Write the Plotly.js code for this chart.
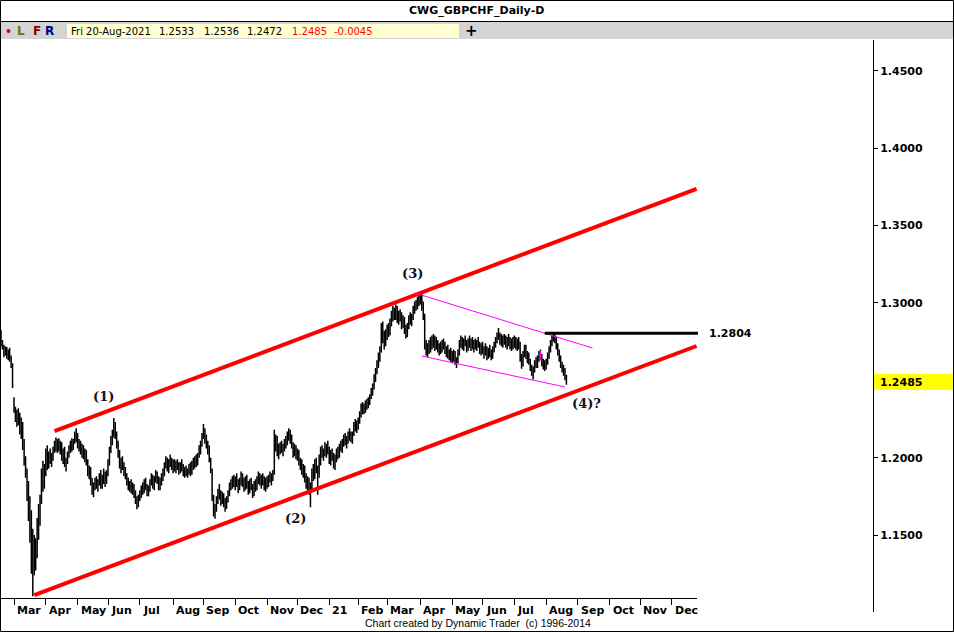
<!DOCTYPE html>
<html>
<head>
<meta charset="utf-8">
<script src="https://cdn.plot.ly/plotly-3.0.1.min.js"></script>
<style>
html,body{margin:0;padding:0;background:#fff;}
#chart{width:954px;height:632px;}
</style>
</head>
<body>
<div id="chart"></div>
<script>
// ---------------- DATA ----------------
const symbolTitle = 'CWG_GBPCHF_Daily-D';
const firstBarDate = '2020-02-18';
const holidays = ['2020-12-25', '2021-01-01'];

// Daily OHLC, Feb-18-2020 .. Aug-20-2021 (one line per month)
const openPx = [
1.2800,1.2740,1.2715,1.2680,1.2700,1.2660,1.2690,1.2640,1.2600,
1.2385,1.2320,1.2260,1.2290,1.2240,1.2170,1.2220,1.2080,1.1990,1.1920,1.1760,1.1620,1.1500,1.1300,1.1440,1.1300,1.1450,1.1570,1.1650,1.1720,1.1900,1.1820,
1.1920,1.2030,1.1960,1.2010,1.1990,1.2000,1.2050,1.2090,1.2070,1.2100,1.2060,1.2090,1.2010,1.2040,1.1960,1.1980,1.2020,1.2060,1.2100,1.2060,1.2110,1.2150,
1.2130,1.2080,1.2100,1.2040,1.2070,1.2010,1.2040,1.1970,1.1900,1.1930,1.1840,1.1790,1.1820,1.1850,1.1810,1.1840,1.1880,1.1820,1.1860,1.1900,1.1840,
1.1900,1.1970,1.2050,1.2120,1.2150,1.2200,1.2140,1.2080,1.2020,1.1960,1.1980,1.1940,1.1920,1.1880,1.1840,1.1810,1.1830,1.1790,1.1800,1.1760,1.1720,1.1690,
1.1740,1.1770,1.1800,1.1780,1.1840,1.1810,1.1770,1.1800,1.1840,1.1870,1.1820,1.1860,1.1890,1.1850,1.1810,1.1850,1.1880,1.1910,1.1950,1.1990,1.1930,1.1970,1.1960,
1.1940,1.1960,1.1930,1.1960,1.1940,1.1910,1.1950,1.1930,1.1900,1.1920,1.1890,1.1910,1.1940,1.1900,1.1960,1.1940,1.1990,1.1960,1.2010,1.2060,1.2090,
1.2140,1.2170,1.2110,1.2080,1.2050,1.1990,1.1920,1.1750,1.1660,1.1680,1.1720,1.1770,1.1750,1.1710,1.1760,1.1700,1.1690,1.1730,1.1770,1.1820,1.1810,1.1860,
1.1830,1.1850,1.1830,1.1800,1.1850,1.1880,1.1830,1.1810,1.1860,1.1820,1.1790,1.1840,1.1810,1.1770,1.1830,1.1800,1.1860,1.1890,1.1840,1.1870,1.1850,1.1810,
1.1840,1.1820,1.1870,1.1860,1.1880,1.1900,1.2080,1.2120,1.2040,1.2060,1.2080,1.2050,1.2070,1.2100,1.2120,1.2150,1.2160,1.2110,1.2080,1.2030,1.2070,
1.2010,1.2030,1.1970,1.1950,1.1910,1.1930,1.1860,1.1830,1.1850,1.1780,1.1800,1.1910,1.1880,1.1960,1.1930,1.1890,1.1990,1.2040,1.2020,1.2050,1.2030,1.2070,
1.2040,1.1990,1.2030,1.2000,1.1960,1.2000,1.2040,1.2020,1.2070,1.2060,1.2090,1.2120,1.2100,1.2120,1.2150,1.2130,1.2120,1.2150,1.2210,1.2190,
1.2220,1.2240,1.2280,1.2330,1.2300,1.2320,1.2350,1.2330,1.2370,1.2390,1.2430,1.2460,1.2520,1.2560,1.2610,1.2650,1.2700,1.2840,1.2780,1.2750,
1.2800,1.2830,1.2810,1.2880,1.2920,1.2950,1.2910,1.2960,1.2900,1.2930,1.2900,1.2860,1.2890,1.2830,1.2800,1.2850,1.2900,1.2880,1.2910,1.2960,1.2990,1.2970,1.3020,
1.3000,1.3040,1.2980,1.2920,1.2730,1.2690,1.2720,1.2700,1.2750,1.2730,1.2770,1.2720,1.2750,1.2700,1.2720,1.2690,1.2740,1.2730,1.2690,1.2700,1.2660,1.2680,
1.2650,1.2640,1.2670,1.2620,1.2630,1.2680,1.2740,1.2760,1.2720,1.2750,1.2730,1.2710,1.2750,1.2730,1.2760,1.2720,1.2740,1.2710,1.2740,1.2730,1.2700,
1.2720,1.2690,1.2700,1.2680,1.2660,1.2690,1.2670,1.2650,1.2700,1.2730,1.2760,1.2790,1.2780,1.2760,1.2750,1.2770,1.2750,1.2730,1.2760,1.2740,1.2720,1.2750,
1.2730,1.2760,1.2720,1.2740,1.2730,1.2640,1.2600,1.2670,1.2700,1.2660,1.2640,1.2620,1.2580,1.2550,1.2570,1.2610,1.2600,1.2640,1.2670,1.2650,1.2610,1.2590,
1.2600,1.2620,1.2660,1.2700,1.2740,1.2770,1.2790,1.2760,1.2720,1.2680,1.2640,1.2600,1.2570,1.2560,1.2533
];
const highPx = [
1.2825,1.2760,1.2730,1.2720,1.2715,1.2700,1.2710,1.2660,1.2610,
1.2390,1.2330,1.2310,1.2320,1.2290,1.2260,1.2230,1.2120,1.2010,1.1930,1.1850,1.1750,1.1660,1.1540,1.1500,1.1480,1.1610,1.1700,1.1760,1.1930,1.1980,1.1960,
1.2060,1.2080,1.2040,1.2060,1.2030,1.2070,1.2110,1.2130,1.2120,1.2125,1.2110,1.2100,1.2060,1.2070,1.2000,1.2040,1.2080,1.2110,1.2125,1.2120,1.2170,1.2190,
1.2160,1.2120,1.2110,1.2090,1.2080,1.2060,1.2050,1.1990,1.1950,1.1940,1.1870,1.1840,1.1870,1.1880,1.1860,1.1900,1.1920,1.1890,1.1930,1.1910,1.1920,
1.1990,1.2070,1.2140,1.2180,1.2256,1.2230,1.2170,1.2110,1.2050,1.2000,1.2010,1.1970,1.1940,1.1900,1.1870,1.1850,1.1860,1.1840,1.1830,1.1790,1.1750,1.1760,
1.1790,1.1820,1.1840,1.1860,1.1870,1.1830,1.1820,1.1860,1.1900,1.1890,1.1880,1.1920,1.1910,1.1880,1.1870,1.1900,1.1930,1.1970,1.2010,1.2000,1.1990,1.2020,1.2000,
1.1990,1.1990,1.1980,1.1990,1.1970,1.1970,1.1990,1.1960,1.1940,1.1950,1.1930,1.1960,1.1970,1.1980,1.2000,1.2010,1.2020,1.2030,1.2080,1.2110,1.2160,
1.2217,1.2190,1.2150,1.2110,1.2080,1.2000,1.1930,1.1760,1.1700,1.1750,1.1800,1.1830,1.1790,1.1780,1.1770,1.1740,1.1750,1.1790,1.1840,1.1860,1.1880,1.1890,
1.1880,1.1900,1.1860,1.1870,1.1910,1.1900,1.1870,1.1880,1.1890,1.1850,1.1860,1.1870,1.1830,1.1850,1.1860,1.1880,1.1910,1.1900,1.1890,1.1900,1.1880,1.1870,
1.1880,1.1890,1.1910,1.1900,1.1920,1.2180,1.2150,1.2140,1.2090,1.2100,1.2110,1.2090,1.2120,1.2140,1.2170,1.2191,1.2180,1.2150,1.2100,1.2090,1.2080,
1.2060,1.2050,1.2000,1.1990,1.1960,1.1950,1.1900,1.1880,1.1870,1.1840,1.1930,1.1960,1.1990,1.2000,1.1950,1.2020,1.2070,1.2080,1.2060,1.2100,1.2090,1.2110,
1.2070,1.2050,1.2060,1.2030,1.2020,1.2060,1.2070,1.2090,1.2110,1.2120,1.2150,1.2160,1.2140,1.2170,1.2190,1.2170,1.2170,1.2230,1.2250,1.2240,
1.2260,1.2300,1.2350,1.2360,1.2350,1.2370,1.2380,1.2390,1.2410,1.2450,1.2480,1.2540,1.2580,1.2630,1.2680,1.2720,1.2870,1.2880,1.2820,1.2830,
1.2860,1.2870,1.2900,1.2950,1.2980,1.2970,1.2990,1.2980,1.2950,1.2960,1.2940,1.2920,1.2910,1.2860,1.2870,1.2920,1.2940,1.2930,1.2980,1.3010,1.3020,1.3040,1.3050,
1.3068,1.3060,1.3010,1.2930,1.2760,1.2740,1.2760,1.2780,1.2790,1.2800,1.2790,1.2780,1.2760,1.2740,1.2750,1.2760,1.2770,1.2750,1.2720,1.2730,1.2700,1.2710,
1.2690,1.2700,1.2690,1.2650,1.2700,1.2760,1.2790,1.2780,1.2770,1.2790,1.2760,1.2770,1.2790,1.2770,1.2780,1.2760,1.2770,1.2760,1.2780,1.2750,1.2740,
1.2750,1.2720,1.2740,1.2720,1.2710,1.2730,1.2700,1.2720,1.2750,1.2780,1.2810,1.2838,1.2810,1.2800,1.2790,1.2800,1.2790,1.2780,1.2800,1.2780,1.2770,1.2780,
1.2790,1.2780,1.2770,1.2780,1.2750,1.2670,1.2690,1.2730,1.2730,1.2690,1.2680,1.2640,1.2600,1.2590,1.2630,1.2650,1.2660,1.2690,1.2700,1.2670,1.2640,1.2630,
1.2640,1.2680,1.2720,1.2760,1.2790,1.2804,1.2800,1.2780,1.2740,1.2700,1.2660,1.2620,1.2600,1.2580,1.2536
];
const lowPx = [
1.2720,1.2700,1.2650,1.2660,1.2640,1.2630,1.2620,1.2580,1.2450,
1.2290,1.2230,1.2200,1.2210,1.2150,1.2120,1.2050,1.1950,1.1870,1.1720,1.1590,1.1450,1.1250,1.1105,1.1240,1.1270,1.1350,1.1470,1.1560,1.1700,1.1780,1.1800,
1.1880,1.1920,1.1930,1.1960,1.1940,1.1980,1.2030,1.2040,1.2030,1.2040,1.2020,1.1980,1.1960,1.1940,1.1910,1.1960,1.2000,1.2030,1.2040,1.2050,1.2090,1.2100,
1.2060,1.2040,1.2020,1.2000,1.1990,1.1970,1.1950,1.1880,1.1860,1.1820,1.1760,1.1745,1.1790,1.1800,1.1780,1.1820,1.1800,1.1800,1.1830,1.1810,1.1830,
1.1880,1.1950,1.2030,1.2080,1.2130,1.2120,1.2060,1.2000,1.1930,1.1900,1.1920,1.1880,1.1860,1.1820,1.1790,1.1780,1.1770,1.1760,1.1740,1.1700,1.1667,1.1680,
1.1720,1.1740,1.1760,1.1770,1.1790,1.1750,1.1750,1.1780,1.1820,1.1800,1.1790,1.1840,1.1830,1.1790,1.1790,1.1820,1.1850,1.1880,1.1930,1.1910,1.1900,1.1940,1.1920,
1.1900,1.1910,1.1900,1.1920,1.1890,1.1900,1.1910,1.1880,1.1870,1.1880,1.1870,1.1890,1.1880,1.1890,1.1920,1.1930,1.1940,1.1950,1.2000,1.2020,1.2070,
1.2120,1.2090,1.2060,1.2020,1.1970,1.1900,1.1720,1.1620,1.1605,1.1650,1.1700,1.1730,1.1690,1.1700,1.1680,1.1650,1.1670,1.1710,1.1750,1.1790,1.1800,1.1810,
1.1790,1.1810,1.1770,1.1790,1.1820,1.1810,1.1780,1.1790,1.1800,1.1760,1.1770,1.1790,1.1740,1.1750,1.1780,1.1790,1.1830,1.1820,1.1800,1.1820,1.1790,1.1780,
1.1800,1.1810,1.1840,1.1820,1.1850,1.1890,1.2040,1.2010,1.1990,1.2020,1.2030,1.2010,1.2040,1.2060,1.2080,1.2110,1.2090,1.2060,1.2000,1.2010,1.1990,
1.1980,1.1950,1.1920,1.1890,1.1870,1.1840,1.1800,1.1790,1.1760,1.1680,1.1790,1.1850,1.1860,1.1900,1.1760,1.1870,1.1950,1.2000,1.1980,1.2010,1.2000,1.2020,
1.1960,1.1950,1.1980,1.1930,1.1920,1.1970,1.1990,1.2000,1.2040,1.2030,1.2070,1.2080,1.2060,1.2090,1.2110,1.2100,1.2090,1.2140,1.2170,1.2160,
1.2180,1.2220,1.2260,1.2280,1.2280,1.2290,1.2310,1.2320,1.2340,1.2380,1.2400,1.2440,1.2490,1.2540,1.2580,1.2620,1.2680,1.2740,1.2700,1.2720,
1.2760,1.2780,1.2790,1.2850,1.2880,1.2890,1.2890,1.2870,1.2860,1.2880,1.2830,1.2840,1.2800,1.2770,1.2780,1.2830,1.2860,1.2850,1.2890,1.2930,1.2950,1.2960,1.2980,
1.2990,1.2950,1.2890,1.2700,1.2660,1.2650,1.2670,1.2680,1.2700,1.2710,1.2690,1.2700,1.2680,1.2660,1.2670,1.2680,1.2700,1.2670,1.2650,1.2640,1.2630,1.2620,
1.2610,1.2620,1.2600,1.2580,1.2610,1.2660,1.2710,1.2700,1.2690,1.2720,1.2680,1.2690,1.2710,1.2690,1.2700,1.2680,1.2700,1.2690,1.2710,1.2670,1.2660,
1.2670,1.2640,1.2660,1.2630,1.2640,1.2650,1.2630,1.2640,1.2680,1.2710,1.2740,1.2760,1.2730,1.2720,1.2710,1.2730,1.2710,1.2700,1.2720,1.2700,1.2690,1.2700,
1.2710,1.2700,1.2690,1.2700,1.2620,1.2575,1.2590,1.2650,1.2640,1.2610,1.2600,1.2560,1.2530,1.2505,1.2550,1.2580,1.2580,1.2620,1.2630,1.2590,1.2570,1.2560,
1.2570,1.2600,1.2640,1.2680,1.2720,1.2750,1.2740,1.2700,1.2660,1.2620,1.2580,1.2550,1.2530,1.2500,1.2472
];
const closePx = [
1.2740,1.2715,1.2680,1.2700,1.2660,1.2690,1.2640,1.2600,1.2470,
1.2320,1.2260,1.2290,1.2240,1.2170,1.2220,1.2080,1.1990,1.1920,1.1760,1.1620,1.1500,1.1300,1.1440,1.1300,1.1450,1.1570,1.1650,1.1720,1.1900,1.1820,1.1920,
1.2030,1.1960,1.2010,1.1990,1.2000,1.2050,1.2090,1.2070,1.2100,1.2060,1.2090,1.2010,1.2040,1.1960,1.1980,1.2020,1.2060,1.2100,1.2060,1.2110,1.2150,1.2130,
1.2080,1.2100,1.2040,1.2070,1.2010,1.2040,1.1970,1.1900,1.1930,1.1840,1.1790,1.1820,1.1850,1.1810,1.1840,1.1880,1.1820,1.1860,1.1900,1.1840,1.1900,
1.1970,1.2050,1.2120,1.2150,1.2200,1.2140,1.2080,1.2020,1.1960,1.1980,1.1940,1.1920,1.1880,1.1840,1.1810,1.1830,1.1790,1.1800,1.1760,1.1720,1.1690,1.1740,
1.1770,1.1800,1.1780,1.1840,1.1810,1.1770,1.1800,1.1840,1.1870,1.1820,1.1860,1.1890,1.1850,1.1810,1.1850,1.1880,1.1910,1.1950,1.1990,1.1930,1.1970,1.1960,1.1940,
1.1960,1.1930,1.1960,1.1940,1.1910,1.1950,1.1930,1.1900,1.1920,1.1890,1.1910,1.1940,1.1900,1.1960,1.1940,1.1990,1.1960,1.2010,1.2060,1.2090,1.2140,
1.2170,1.2110,1.2080,1.2050,1.1990,1.1920,1.1750,1.1660,1.1680,1.1720,1.1770,1.1750,1.1710,1.1760,1.1700,1.1690,1.1730,1.1770,1.1820,1.1810,1.1860,1.1830,
1.1850,1.1830,1.1800,1.1850,1.1880,1.1830,1.1810,1.1860,1.1820,1.1790,1.1840,1.1810,1.1770,1.1830,1.1800,1.1860,1.1890,1.1840,1.1870,1.1850,1.1810,1.1840,
1.1820,1.1870,1.1860,1.1880,1.1900,1.2080,1.2120,1.2040,1.2060,1.2080,1.2050,1.2070,1.2100,1.2120,1.2150,1.2160,1.2110,1.2080,1.2030,1.2070,1.2010,
1.2030,1.1970,1.1950,1.1910,1.1930,1.1860,1.1830,1.1850,1.1780,1.1800,1.1910,1.1880,1.1960,1.1930,1.1890,1.1990,1.2040,1.2020,1.2050,1.2030,1.2070,1.2040,
1.1990,1.2030,1.2000,1.1960,1.2000,1.2040,1.2020,1.2070,1.2060,1.2090,1.2120,1.2100,1.2120,1.2150,1.2130,1.2120,1.2150,1.2210,1.2190,1.2220,
1.2240,1.2280,1.2330,1.2300,1.2320,1.2350,1.2330,1.2370,1.2390,1.2430,1.2460,1.2520,1.2560,1.2610,1.2650,1.2700,1.2840,1.2780,1.2750,1.2800,
1.2830,1.2810,1.2880,1.2920,1.2950,1.2910,1.2960,1.2900,1.2930,1.2900,1.2860,1.2890,1.2830,1.2800,1.2850,1.2900,1.2880,1.2910,1.2960,1.2990,1.2970,1.3020,1.3000,
1.3040,1.2980,1.2920,1.2730,1.2690,1.2720,1.2700,1.2750,1.2730,1.2770,1.2720,1.2750,1.2700,1.2720,1.2690,1.2740,1.2730,1.2690,1.2700,1.2660,1.2680,1.2650,
1.2640,1.2670,1.2620,1.2630,1.2680,1.2740,1.2760,1.2720,1.2750,1.2730,1.2710,1.2750,1.2730,1.2760,1.2720,1.2740,1.2710,1.2740,1.2730,1.2700,1.2720,
1.2690,1.2700,1.2680,1.2660,1.2690,1.2670,1.2650,1.2700,1.2730,1.2760,1.2790,1.2780,1.2760,1.2750,1.2770,1.2750,1.2730,1.2760,1.2740,1.2720,1.2750,1.2730,
1.2760,1.2720,1.2740,1.2730,1.2640,1.2600,1.2670,1.2700,1.2660,1.2640,1.2620,1.2580,1.2550,1.2570,1.2610,1.2600,1.2640,1.2670,1.2650,1.2610,1.2590,1.2600,
1.2620,1.2660,1.2700,1.2740,1.2770,1.2790,1.2760,1.2720,1.2680,1.2640,1.2600,1.2570,1.2560,1.2533,1.2485
];

// month ticks (first trading day of each month) and their labels
const monthTicks = ['2020-03-02','2020-04-01','2020-05-01','2020-06-01','2020-07-01','2020-08-03','2020-09-01','2020-10-01','2020-11-02','2020-12-01',
  '2021-01-04','2021-02-01','2021-03-01','2021-04-01','2021-05-03','2021-06-01','2021-07-01','2021-08-02','2021-09-01','2021-10-01','2021-11-01','2021-12-01'];
const monthLabels = ['Mar','Apr','May','Jun','Jul','Aug','Sep','Oct','Nov','Dec','21','Feb','Mar','Apr','May','Jun','Jul','Aug','Sep','Oct','Nov','Dec'];

const priceTicks = [1.15, 1.20, 1.30, 1.35, 1.40, 1.45];

// drawn trend lines [date, price]
const channelUpper = {x: ['2020-04-09', '2021-12-24'], y: [1.2172, 1.3738]};
const channelLower = {x: ['2020-03-20', '2021-12-24'], y: [1.1112, 1.2722]};
const triangleUpper = {x: ['2021-03-26', '2021-09-15'], y: [1.3065, 1.2709]};
const triangleLower = {x: ['2021-04-02', '2021-08-19'], y: [1.2657, 1.2457]};
const levelLine = {x: ['2021-07-30', '2021-12-27'], y: [1.2804, 1.2804]};
const smallMark = {x: ['2021-07-27', '2021-07-27'], y: [1.2692, 1.2632]};

const waveLabels = ['(1)', '(2)', '(3)', '(4)?'];
const lastBar = {date: 'Fri 20-Aug-2021', open: '1.2533', high: '1.2536', low: '1.2472', close: '1.2485', change: '-0.0045'};
const levelLabel = 1.2804;
const lastClose = 1.2485;

// ---------------- BUILD ----------------
function buildDates(n) {
  const out = [];
  const p = firstBarDate.split('-').map(Number);
  const d = new Date(Date.UTC(p[0], p[1] - 1, p[2]));
  while (out.length < n) {
    const wd = d.getUTCDay();
    const s = d.toISOString().slice(0, 10);
    if (wd !== 0 && wd !== 6 && holidays.indexOf(s) < 0) out.push(s);
    d.setUTCDate(d.getUTCDate() + 1);
  }
  return out;
}
const dates = buildDates(closePx.length);

const W = 954, H = 632, ML = 0, MR = 81, MT = 40, MB = 34;
const PW = W - ML - MR, PH = H - MT - MB;
const px = x => (x - ML) / PW;           // page px -> paper x
const py = y => (H - MB - y) / PH;       // page px -> paper y

const traces = [
  {type: 'ohlc', x: dates, open: openPx, high: highPx, low: lowPx, close: closePx,
   increasing: {line: {color: '#000', width: 1.5}}, decreasing: {line: {color: '#000', width: 1.5}},
   tickwidth: 0.5, hoverinfo: 'skip', showlegend: false},
  {type: 'scatter', mode: 'lines', x: channelUpper.x, y: channelUpper.y, line: {color: '#ff0000', width: 4}, hoverinfo: 'skip', showlegend: false},
  {type: 'scatter', mode: 'lines', x: channelLower.x, y: channelLower.y, line: {color: '#ff0000', width: 4}, hoverinfo: 'skip', showlegend: false},
  {type: 'scatter', mode: 'lines', x: triangleUpper.x, y: triangleUpper.y, line: {color: '#ff00ff', width: 1}, hoverinfo: 'skip', showlegend: false},
  {type: 'scatter', mode: 'lines', x: triangleLower.x, y: triangleLower.y, line: {color: '#ff00ff', width: 1}, hoverinfo: 'skip', showlegend: false},
  {type: 'scatter', mode: 'lines', x: smallMark.x, y: smallMark.y, line: {color: '#ff00ff', width: 1.5}, hoverinfo: 'skip', showlegend: false},
  {type: 'scatter', mode: 'lines', x: levelLine.x, y: levelLine.y, line: {color: '#000', width: 3}, hoverinfo: 'skip', showlegend: false}
];

const F = 'DejaVu Sans, Verdana, sans-serif';
const annotations = [];
function ann(o) { annotations.push(Object.assign({showarrow: false, borderpad: 0}, o)); }

// title + toolbar
ann({text: symbolTitle, xref: 'paper', yref: 'paper', x: px(477), y: py(11), xanchor: 'center', yanchor: 'middle',
     font: {family: F, size: 11, color: '#000', weight: 'bold'}});
ann({text: 'L', xref: 'paper', yref: 'paper', x: px(16), y: py(31), xanchor: 'left', yanchor: 'middle', font: {family: F, size: 12, color: '#707000', weight: 'bold'}});
ann({text: 'F', xref: 'paper', yref: 'paper', x: px(32), y: py(31), xanchor: 'left', yanchor: 'middle', font: {family: F, size: 12, color: '#800000', weight: 'bold'}});
ann({text: 'R', xref: 'paper', yref: 'paper', x: px(44), y: py(31), xanchor: 'left', yanchor: 'middle', font: {family: F, size: 12, color: '#000080', weight: 'bold'}});
const tb = [[lastBar.date, 70, '#000'], [lastBar.open, 158, '#000'], [lastBar.high, 203, '#000'], [lastBar.low, 246, '#000'],
            [lastBar.close, 291, '#ff0000'], [lastBar.change, 333, '#ff0000']];
tb.forEach(t => ann({text: t[0], xref: 'paper', yref: 'paper', x: px(t[1]), y: py(31), xanchor: 'left', yanchor: 'middle',
                     font: {family: F, size: 10, color: t[2]}}));
ann({text: '+', xref: 'paper', yref: 'paper', x: px(472), y: py(31), xanchor: 'center', yanchor: 'middle', font: {family: F, size: 15, color: '#000', weight: 'bold'}});

// month labels
monthTicks.forEach((d, k) => ann({text: monthLabels[k], xref: 'x', yref: 'paper', x: d, y: py(610), xanchor: 'left', yanchor: 'middle',
   xshift: 2, font: {family: F, size: 11, color: '#000', weight: 'bold'}}));

// footer
ann({text: 'Chart created by Dynamic Trader  (c) 1996-2014', xref: 'paper', yref: 'paper', x: px(478), y: py(623), xanchor: 'center', yanchor: 'middle',
     font: {family: 'Liberation Sans, Arial, sans-serif', size: 10.5, color: '#000'}});

// wave labels
const wavePos = [[103, 396], [295, 518], [412, 273], [586, 403]];
waveLabels.forEach((t, k) => ann({text: t, xref: 'paper', yref: 'paper', x: px(wavePos[k][0]), y: py(wavePos[k][1]), xanchor: 'center', yanchor: 'middle',
   font: {family: 'DejaVu Serif, serif', size: 13, color: '#111122', weight: 'bold'}}));

// level and last price labels
ann({text: levelLabel.toFixed(4), xref: 'paper', yref: 'y', x: px(708), y: levelLabel, xanchor: 'left', yanchor: 'middle',
     font: {family: F, size: 11, color: '#000', weight: 'bold'}});
ann({text: lastClose.toFixed(4), xref: 'paper', yref: 'y', x: px(879), y: lastClose, xanchor: 'left', yanchor: 'middle',
     font: {family: F, size: 11, color: '#000', weight: 'bold'}});

const shapes = [
  // toolbar strip
  {type: 'rect', xref: 'paper', yref: 'paper', x0: px(0), x1: px(954), y0: py(39), y1: py(22), fillcolor: '#d4d4d4', line: {width: 0}, layer: 'below'},
  {type: 'line', xref: 'paper', yref: 'paper', x0: px(0), x1: px(954), y0: py(21.5), y1: py(21.5), line: {color: '#000', width: 1}},
  {type: 'rect', xref: 'paper', yref: 'paper', x0: px(67), x1: px(459), y0: py(38), y1: py(24), fillcolor: '#ffffd2', line: {width: 0}, layer: 'below'},
  {type: 'circle', xref: 'paper', yref: 'paper', x0: px(6.5), x1: px(10.5), y0: py(33), y1: py(29), fillcolor: '#e00000', line: {width: 0}},
  // last price box
  {type: 'rect', xref: 'paper', yref: 'paper', x0: px(873), x1: px(954), y0: py(390), y1: py(374), fillcolor: '#ffff00', line: {width: 0}, layer: 'below'},
  // price axis line and date axis line
  {type: 'line', xref: 'paper', yref: 'paper', x0: px(873.5), x1: px(873.5), y0: py(40), y1: py(612), line: {color: '#000', width: 1}},
  {type: 'line', xref: 'paper', yref: 'paper', x0: px(0), x1: px(697), y0: py(598.5), y1: py(598.5), line: {color: '#000', width: 1}},
  // outer frame
  {type: 'rect', xref: 'paper', yref: 'paper', x0: px(0.5), x1: px(953.5), y0: py(631.5), y1: py(0.5), line: {color: '#000', width: 1}, fillcolor: 'rgba(0,0,0,0)'}
];

const layout = {
  width: W, height: H,
  margin: {l: ML, r: MR, t: MT, b: MB, pad: 0},
  paper_bgcolor: '#fff', plot_bgcolor: '#fff',
  showlegend: false, hovermode: false, dragmode: false,
  font: {family: F, color: '#000'},
  xaxis: {
    type: 'date',
    range: ['2020-02-17 07:40', '2022-06-14'],
    rangebreaks: [{bounds: ['sat', 'mon']}, {values: holidays}],
    rangeslider: {visible: false},
    tickmode: 'array', tickvals: monthTicks, showticklabels: false,
    ticks: 'outside', ticklen: 6, tickcolor: '#000', tickwidth: 1,
    showgrid: false, zeroline: false, showline: false, fixedrange: true
  },
  yaxis: {
    side: 'right', range: [1.1093, 1.4700],
    tickmode: 'array', tickvals: priceTicks, ticktext: priceTicks.map(v => v.toFixed(4)),
    ticks: 'outside', ticklen: 4, tickcolor: '#000', tickwidth: 1,
    tickfont: {family: F, size: 11, color: '#000', weight: 'bold'},
    showgrid: false, zeroline: false, showline: false, fixedrange: true
  },
  shapes: shapes,
  annotations: annotations
};

Plotly.newPlot('chart', traces, layout, {staticPlot: true, displayModeBar: false});
</script>
</body>
</html>
